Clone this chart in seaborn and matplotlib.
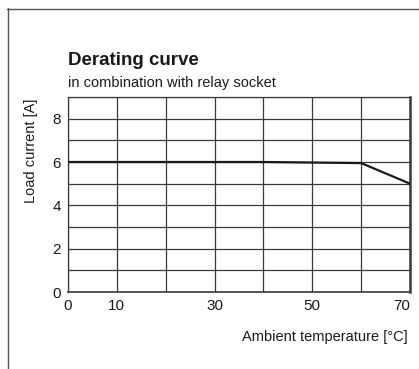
import matplotlib
matplotlib.use("Agg")
import matplotlib.pyplot as plt
from matplotlib.lines import Line2D
import seaborn as sns
import pandas as pd

# Derating data: ambient temperature (°C) vs. permissible load current (A)
temperature = [0, 40, 60, 70]
load_current = [6.0, 6.0, 5.95, 5.0]

x_ticks = [0, 10, 20, 30, 40, 50, 60, 70]
x_tick_labels = ["0", "10", "", "30", "", "50", "", "70"]
y_ticks = [0, 1, 2, 3, 4, 5, 6, 7, 8, 9]
y_tick_labels = ["0", "", "2", "", "4", "", "6", "", "8", ""]

sns.set_style("white")
plt.rcParams["font.family"] = ["Liberation Sans Narrow", "Liberation Sans", "DejaVu Sans"]

df = pd.DataFrame({"temp": temperature, "current": load_current})

fig = plt.figure(figsize=(4.19, 3.69), dpi=100)
ax = fig.add_axes([68 / 419, 1 - 292 / 369, (410 - 68) / 419, (292 - 97) / 369])

sns.lineplot(data=df, x="temp", y="current", ax=ax, color="#1a1a1a", linewidth=1.6, zorder=3)

ax.set_xlim(0, 70)
ax.set_ylim(0, 9)
ax.set_xticks(x_ticks)
ax.set_xticklabels(x_tick_labels)
ax.set_yticks(y_ticks)
ax.set_yticklabels(y_tick_labels)
ax.grid(True, color="#3a3a3a", linewidth=0.9)
ax.tick_params(axis="both", length=0, labelsize=11, colors="#1a1a1a", pad=5)
# last temperature label sits flush with the right edge
ax.get_xticklabels()[-1].set_horizontalalignment("right")
ax.set_xlabel("")
ax.set_ylabel("")
for side, sp in ax.spines.items():
    sp.set_color("#3a3a3a")
    sp.set_linewidth(0.9)
ax.spines["right"].set_linewidth(1.8)
ax.spines["bottom"].set_linewidth(1.2)

# Titles and axis captions
fig.text(68 / 419, 1 - 65 / 369, "Derating curve", fontsize=13.5, fontweight="bold",
         color="#1a1a1a", ha="left", va="baseline")
fig.text(68 / 419, 1 - 87 / 369, "in combination with relay socket", fontsize=10.5,
         color="#1a1a1a", ha="left", va="baseline")
fig.text(31 / 419, 1 - 99 / 369, "Load current [A]", fontsize=10.5, rotation=90,
         color="#1a1a1a", ha="center", va="top")
fig.text(408 / 419, 1 - 337 / 369, "Ambient temperature [°C]", fontsize=10.5,
         color="#1a1a1a", ha="right", va="center")

# Surrounding frame
fig.add_artist(Line2D([7.5 / 419, 7.5 / 419], [1 - 8 / 369, 0], transform=fig.transFigure,
                      color="#555555", linewidth=1.0))
fig.add_artist(Line2D([7 / 419, 1], [1 - 8.5 / 369, 1 - 8.5 / 369], transform=fig.transFigure,
                      color="#555555", linewidth=1.0))

fig.savefig("out.png", dpi=100)
